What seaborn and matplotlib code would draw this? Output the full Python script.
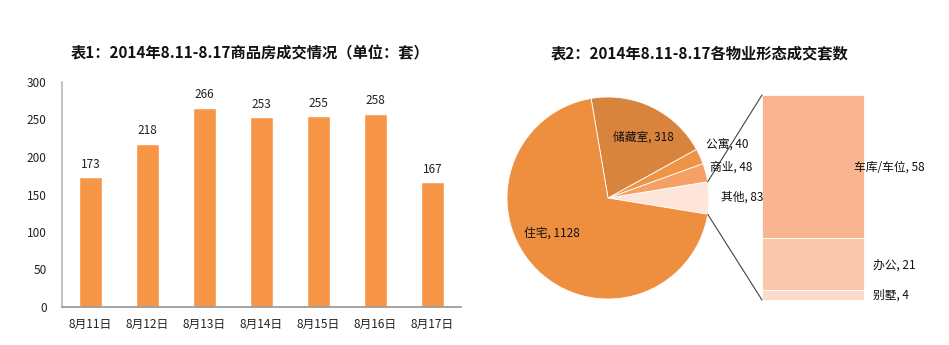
import numpy as np
import matplotlib.pyplot as plt
import seaborn as sns
import pandas as pd

sns.set_theme(style="white")
plt.rcParams["font.family"] = ["Noto Sans CJK SC", "DejaVu Sans"]

# left chart data
days = ["8月11日", "8月12日", "8月13日", "8月14日", "8月15日", "8月16日", "8月17日"]
deals = [173, 218, 266, 253, 255, 258, 167]

# pie data (counter-clockwise from the right)
pie_labels = ["其他", "商业", "公寓", "储藏室", "住宅"]
pie_values = [83, 48, 40, 318, 1128]
pie_colors = ["#FDE5D9", "#F4A066", "#EE9445", "#D9843C", "#EE8E3F"]

# breakdown of "其他" (bottom to top)
sub_labels = ["别墅", "办公", "车库/车位"]
sub_values = [4, 21, 58]
sub_colors = ["#FBDACA", "#F9C8AC", "#F8B58F"]

W, H = 949, 345
fig = plt.figure(figsize=(W / 100, H / 100), dpi=100)

# ---- left: bar chart
ax = fig.add_axes([62 / W, 38 / H, 399 / W, 225 / H])
df = pd.DataFrame({"day": days, "deals": deals})
sns.barplot(data=df, x="day", y="deals", color="#F79646", saturation=1,
            width=0.41, ax=ax)
for i, v in enumerate(deals):
    ax.text(i, v + 8, str(v), ha="center", va="bottom", fontsize=8.5, color="#222222")
ax.set_ylim(0, 300)
ax.set_yticks(range(0, 301, 50))
ax.set_xlabel("")
ax.set_ylabel("")
ax.tick_params(axis="both", labelsize=8.5, colors="#222222", length=0)
ax.tick_params(axis="x", pad=8)
ax.tick_params(axis="y", pad=11)
for s in ["top", "right"]:
    ax.spines[s].set_visible(False)
ax.spines["left"].set_color("#BBBBBB")
ax.spines["bottom"].set_color("#999999")
ax.set_xlim(-0.5, len(days) - 0.5)

fig.text(250 / W, 1 - 53 / H, "表1：2014年8.11-8.17商品房成交情况（单位：套）",
         ha="center", va="center", fontsize=11, fontweight="bold", color="#111111")
fig.text(700 / W, 1 - 53 / H, "表2：2014年8.11-8.17各物业形态成交套数",
         ha="center", va="center", fontsize=11, fontweight="bold", color="#111111")

# ---- right: pie of pie, in pixel coordinates (y up)
ax2 = fig.add_axes([480 / W, 0, 469 / W, 1])

cx, cy, r = 608, H - 198, 101
half = pie_values[0] / sum(pie_values) * 180
ax2.pie(pie_values, colors=pie_colors, startangle=-half, counterclock=True,
        center=(cx, cy), radius=r, frame=True,
        wedgeprops=dict(edgecolor="white", linewidth=0.6))
ax2.set_xlim(480, W)
ax2.set_ylim(0, H)
ax2.axis("off")

# label anchors: (x, y, ha)
pie_text = [(721, 197, "left"), (710, 167, "left"), (706, 144, "left"),
            (643, 137, "center"), (552, 233, "center")]
for (tx, ty, ha), lab, v in zip(pie_text, pie_labels, pie_values):
    ax2.text(tx, H - ty, f"{lab}, {v}", ha=ha, va="center", fontsize=8.5,
             color="#111111")

# stacked bar
bx0, bx1, by0, by1 = 762, 864, H - 300, H - 95
scale = (by1 - by0) / sum(sub_values)
bottom = by0
sub_text = [(873, 295), (873, 265), (854, 167)]
for lab, v, c, (tx, ty) in zip(sub_labels, sub_values, sub_colors, sub_text):
    ax2.bar((bx0 + bx1) / 2, v * scale, bottom=bottom, width=bx1 - bx0,
            color=c, edgecolor="white", linewidth=0.6)
    ax2.text(tx, H - ty, f"{lab}, {v}", ha="left", va="center", fontsize=8.5,
             color="#111111")
    bottom += v * scale

# connector lines
a = np.deg2rad(half)
ax2.plot([cx + r * np.cos(a), bx0], [cy + r * np.sin(a), by1], color="#444444", lw=0.8)
ax2.plot([cx + r * np.cos(a), bx0], [cy - r * np.sin(a), by0], color="#444444", lw=0.8)

plt.savefig("out.png", dpi=100)
plt.close()
